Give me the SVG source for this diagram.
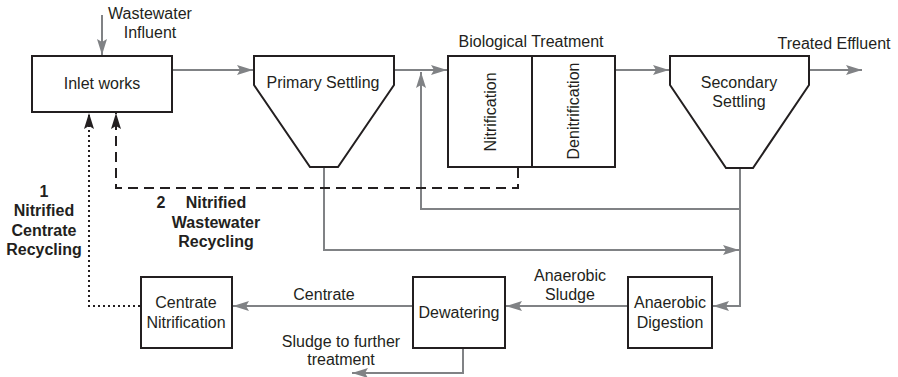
<svg xmlns="http://www.w3.org/2000/svg" width="898" height="377" viewBox="0 0 898 377">
<defs>
<style>
.t{font-family:"Liberation Sans",Arial,sans-serif;font-size:16px;fill:#231f20;text-anchor:middle}
.b{font-weight:bold}
.box{fill:#fff;stroke:#231f20;stroke-width:2}
.g{fill:none;stroke:#808285;stroke-width:2}
.k{fill:none;stroke:#231f20;stroke-width:2}
</style>
<marker id="ag" markerUnits="userSpaceOnUse" markerWidth="16" markerHeight="10" refX="16" refY="5" orient="auto"><path d="M0,0 L16,5 L0,10 L3,5 Z" fill="#808285"/></marker>
<marker id="ak" markerUnits="userSpaceOnUse" markerWidth="16" markerHeight="10" refX="16" refY="5" orient="auto"><path d="M0,0 L16,5 L0,10 L3,5 Z" fill="#231f20"/></marker>
</defs>
<rect width="898" height="377" fill="#fff"/>
<g id="connectors">
<path class="g" d="M102,15 V55" marker-end="url(#ag)"/>
<path class="g" d="M173,70 H253" marker-end="url(#ag)"/>
<path class="g" d="M395,70 H447" marker-end="url(#ag)"/>
<path class="g" d="M616,70 H669" marker-end="url(#ag)"/>
<path class="g" d="M810,70 H862" marker-end="url(#ag)"/>
<path class="g" d="M740,168 V306 H713" marker-end="url(#ag)"/>
<path class="g" d="M740,209 H421 V72" marker-end="url(#ag)"/>
<path class="g" d="M324,168 V250 H739" marker-end="url(#ag)"/>
<path class="g" d="M628,306 H506" marker-end="url(#ag)"/>
<path class="g" d="M413,306 H233" marker-end="url(#ag)"/>
<path class="g" d="M463,348 V373 H352" marker-end="url(#ag)"/>
<path class="k" d="M518,168 V188 H116 V113" stroke-dasharray="10,6" marker-end="url(#ak)"/>
<path class="k" d="M140,306 H89 V113" stroke-dasharray="2,3" marker-end="url(#ak)"/>
</g>
<g id="inlet">
<rect class="box" x="32" y="56" width="140" height="56"/>
<text class="t" x="102" y="89">Inlet works</text>
</g>
<g id="influent-label">
<text class="t" x="150" y="19">Wastewater</text>
<text class="t" x="150" y="38">Influent</text>
</g>
<g id="primary">
<polygon class="box" points="254,56 394,56 394,85 338,167 310,167 254,85"/>
<text class="t" x="323" y="88">Primary Settling</text>
</g>
<g id="bio">
<text class="t" x="531" y="47">Biological Treatment</text>
<rect class="box" x="448" y="56" width="167" height="111"/>
<line class="k" x1="532" y1="56" x2="532" y2="167"/>
<text class="t" transform="translate(496,112) rotate(-90)">Nitrification</text>
<text class="t" transform="translate(579,111) rotate(-90)">Denitrification</text>
</g>
<g id="secondary">
<polygon class="box" points="670,56 809,56 809,85 753,168 726,168 670,85"/>
<text class="t" x="739" y="88">Secondary</text>
<text class="t" x="739" y="107">Settling</text>
</g>
<g id="effluent-label">
<text class="t" x="834" y="49">Treated Effluent</text>
</g>
<g id="centrate-nit">
<rect class="box" x="141" y="277" width="91" height="71"/>
<text class="t" x="186" y="308">Centrate</text>
<text class="t" x="186" y="328">Nitrification</text>
</g>
<g id="dewatering">
<rect class="box" x="413" y="277" width="92" height="71"/>
<text class="t" x="459" y="318">Dewatering</text>
</g>
<g id="digestion">
<rect class="box" x="628" y="277" width="84" height="71"/>
<text class="t" x="670" y="308">Anaerobic</text>
<text class="t" x="670" y="328">Digestion</text>
</g>
<g id="labels">
<text class="t" x="324" y="300">Centrate</text>
<text class="t" x="570" y="281">Anaerobic</text>
<text class="t" x="570" y="300">Sludge</text>
<text class="t" x="341" y="347">Sludge to further</text>
<text class="t" x="341" y="365">treatment</text>
<text class="t b" x="44" y="197">1</text>
<text class="t b" x="44" y="216">Nitrified</text>
<text class="t b" x="44" y="236">Centrate</text>
<text class="t b" x="44" y="255">Recycling</text>
<text class="t b" x="161" y="208">2</text>
<text class="t b" x="216" y="208">Nitrified</text>
<text class="t b" x="216" y="228">Wastewater</text>
<text class="t b" x="216" y="247">Recycling</text>
</g>
</svg>
